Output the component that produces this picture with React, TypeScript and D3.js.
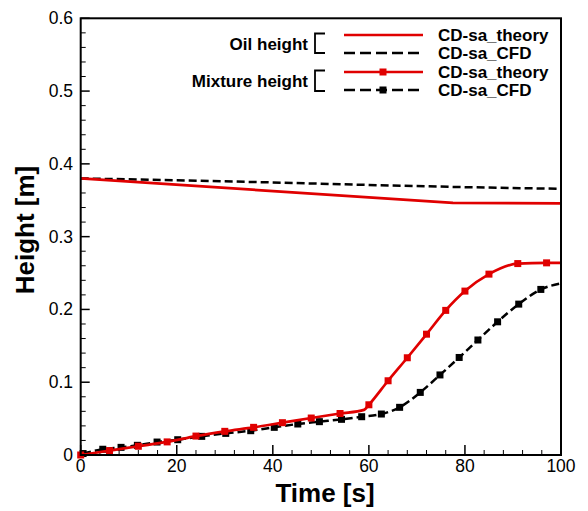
import React from "react";
import * as d3 from "d3";

const oilTheoryT = [0, 77.5, 100];
const oilTheoryH = [0.38, 0.3465, 0.3457];

const oilCfdT = [0, 20, 40, 60, 80, 100];
const oilCfdH = [0.38, 0.3775, 0.3745, 0.371, 0.368, 0.3657];

const mixTheoryT = [0, 6, 12, 18, 24, 30, 36, 42, 48, 54, 59, 60, 64, 68, 72, 76, 80, 85, 91, 97, 100];
const mixTheoryH = [0.0, 0.006, 0.012, 0.018, 0.026, 0.0325, 0.038, 0.0444, 0.0508, 0.057, 0.062, 0.069, 0.102, 0.1336, 0.166, 0.1987, 0.2252, 0.2485, 0.263, 0.264, 0.264];
const mixTheoryMarked = [true, true, true, true, true, true, true, true, true, true, false, true, true, true, true, true, true, true, true, true, false];

const mixCfdT = [0.5, 4.6, 8.4, 11.8, 15.9, 20.2, 25.2, 30.2, 35.4, 40.3, 45.2, 49.7, 54.3, 58.5, 62.6, 66.4, 70.7, 74.8, 78.8, 82.7, 86.8, 91.2, 95.8, 100];
const mixCfdH = [0.002, 0.0079, 0.0105, 0.0133, 0.0178, 0.021, 0.0256, 0.0297, 0.0334, 0.038, 0.0426, 0.0458, 0.049, 0.0526, 0.0563, 0.0655, 0.086, 0.11, 0.134, 0.158, 0.183, 0.2073, 0.2275, 0.2357];

const xTicks = [0, 20, 40, 60, 80, 100];
const yTicks = [0, 0.1, 0.2, 0.3, 0.4, 0.5, 0.6];
const yTickLabels = ["0", "0.1", "0.2", "0.3", "0.4", "0.5", "0.6"];
const legendGroups = ["Oil height", "Mixture height"];
const legendLabels = ["CD-sa_theory", "CD-sa_CFD", "CD-sa_theory", "CD-sa_CFD"];

const RED = "#e00000";
const FONT = "'Liberation Sans', Arial, sans-serif";

export default function App() {
  const L = 80.7, R = 561, T = 18.3, B = 455;
  const x = d3.scaleLinear().domain([0, 100]).range([L, R]);
  const y = d3.scaleLinear().domain([0, 0.6]).range([B, T]);
  const line = d3.line<[number, number]>().x((d) => x(d[0])).y((d) => y(d[1]));
  const smooth = d3.line<[number, number]>().x((d) => x(d[0])).y((d) => y(d[1])).curve(d3.curveMonotoneX);
  const zip = (a: number[], b: number[]) => a.map((v, i) => [v, b[i]] as [number, number]);

  const xMinor = d3.range(0, 100.01, 4).filter((v) => v % 20 !== 0);
  const yMinor = d3.range(0, 0.6001, 0.02).filter((v) => Math.abs(v * 10 - Math.round(v * 10)) > 1e-6);

  const ms = 7;
  const legendY = [35, 53, 72, 90];

  return (
    <svg width={588} height={511} style={{ position: "absolute", left: 0, top: 0, background: "#fff" }} fontFamily={FONT}>
      <rect x={0} y={0} width={588} height={511} fill="#fff" />
      {xMinor.map((v) => (
        <line key={"xm" + v} x1={x(v)} x2={x(v)} y1={B} y2={B - 5} stroke="#000" strokeWidth={1} />
      ))}
      {yMinor.map((v) => (
        <line key={"ym" + v} x1={L} x2={L + 5} y1={y(v)} y2={y(v)} stroke="#000" strokeWidth={1} />
      ))}
      {xTicks.map((v) => (
        <g key={"xt" + v}>
          <line x1={x(v)} x2={x(v)} y1={B} y2={B - 10} stroke="#000" strokeWidth={1.5} />
          <text x={x(v)} y={472} fontSize={17.5} textAnchor="middle">{v}</text>
        </g>
      ))}
      {yTicks.map((v, i) => (
        <g key={"yt" + v}>
          <line x1={L} x2={L + 9} y1={y(v)} y2={y(v)} stroke="#000" strokeWidth={1.5} />
          <text x={73} y={y(v) + 6} fontSize={17.5} textAnchor="end">{yTickLabels[i]}</text>
        </g>
      ))}

      <path d={line(zip(oilCfdT, oilCfdH)) || ""} fill="none" stroke="#000" strokeWidth={2.5} strokeDasharray="8,4" />
      <path d={line(zip(oilTheoryT, oilTheoryH)) || ""} fill="none" stroke={RED} strokeWidth={2.7} />
      <path d={smooth(zip(mixCfdT, mixCfdH)) || ""} fill="none" stroke="#000" strokeWidth={2.5} strokeDasharray="8,4" />
      {mixCfdT.slice(0, -1).map((t, i) => (
        <rect key={"cm" + i} x={x(t) - ms / 2} y={y(mixCfdH[i]) - ms / 2} width={ms} height={ms} fill="#000" />
      ))}
      <path d={smooth(zip(mixTheoryT, mixTheoryH)) || ""} fill="none" stroke={RED} strokeWidth={2.7} />
      {mixTheoryT.map((t, i) =>
        mixTheoryMarked[i] ? (
          <rect key={"tm" + i} x={x(t) - ms / 2} y={y(mixTheoryH[i]) - ms / 2} width={ms} height={ms} fill={RED} />
        ) : null
      )}

      <rect x={L} y={T} width={R - L} height={B - T} fill="none" stroke="#000" strokeWidth={2} />

      <text x={308} y={44 + 6} fontSize={17} fontWeight="bold" textAnchor="end">{legendGroups[0]}</text>
      <text x={308} y={81 + 6} fontSize={17} fontWeight="bold" textAnchor="end">{legendGroups[1]}</text>
      <path d="M325,33.5 H315 V53 H325" fill="none" stroke="#000" strokeWidth={1.8} />
      <path d="M325,70.5 H315 V91 H325" fill="none" stroke="#000" strokeWidth={1.8} />
      <line x1={344} x2={423} y1={legendY[0]} y2={legendY[0]} stroke={RED} strokeWidth={2.7} />
      <line x1={344} x2={423} y1={legendY[1]} y2={legendY[1]} stroke="#000" strokeWidth={2.5} strokeDasharray="11,5" />
      <line x1={344} x2={423} y1={legendY[2]} y2={legendY[2]} stroke={RED} strokeWidth={2.7} />
      <rect x={383 - ms / 2} y={legendY[2] - ms / 2} width={ms} height={ms} fill={RED} />
      <line x1={344} x2={423} y1={legendY[3]} y2={legendY[3]} stroke="#000" strokeWidth={2.5} strokeDasharray="11,5" />
      <rect x={383 - ms / 2} y={legendY[3] - ms / 2} width={ms} height={ms} fill="#000" />
      {legendLabels.map((s, i) => (
        <text key={"ll" + i} x={438} y={legendY[i] + 6} fontSize={17} fontWeight="bold">{s}</text>
      ))}

      <text x={325} y={502} fontSize={26} fontWeight="bold" textAnchor="middle">Time [s]</text>
      <text transform={`translate(34,230) rotate(-90)`} fontSize={26} fontWeight="bold" textAnchor="middle">Height [m]</text>
    </svg>
  );
}
